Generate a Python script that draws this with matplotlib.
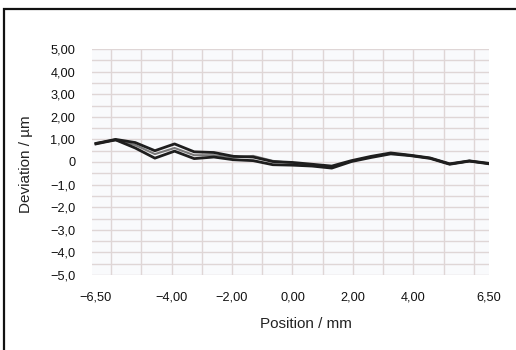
import matplotlib
matplotlib.use("Agg")
import matplotlib.pyplot as plt
from matplotlib.patches import Rectangle
import numpy as np

plt.rcParams['font.family'] = ['Liberation Sans', 'DejaVu Sans']

position = [-6.5, -5.85, -5.2, -4.55, -3.9, -3.25, -2.6, -1.95, -1.3, -0.65, 0.0,
            0.65, 1.3, 1.95, 2.6, 3.25, 3.9, 4.55, 5.2, 5.85, 6.5]
dev_upper = [0.82, 1.00, 0.86, 0.50, 0.80, 0.45, 0.42, 0.25, 0.22, 0.02, -0.02,
             -0.10, -0.18, 0.06, 0.25, 0.40, 0.30, 0.18, -0.08, 0.05, -0.06]
dev_lower = [0.80, 0.98, 0.62, 0.17, 0.48, 0.15, 0.22, 0.10, 0.06, -0.12, -0.14,
             -0.18, -0.27, 0.02, 0.20, 0.36, 0.28, 0.16, -0.10, 0.04, -0.08]
dev_grey = [0.84, 0.96, 0.75, 0.35, 0.62, 0.30, 0.30, 0.20, 0.27, 0.05, -0.05,
            -0.12, -0.22, 0.04, 0.22, 0.38, 0.29, 0.17, -0.09, 0.04, -0.07]

xtick_vals = [-6.5, -4.0, -2.0, 0.0, 2.0, 4.0, 6.5]
xtick_labels = ["\u22126,50", "\u22124,00", "\u22122,00", "0,00", "2,00", "4,00", "6,50"]
ytick_vals = [5, 4, 3, 2, 1, 0, -1, -2, -3, -4, -5]
ytick_labels = ["5,00", "4,00", "3,00", "2,00", "1,00", "0",
                "\u22121,0", "\u22122,0", "\u22123,0", "\u22124,0", "\u22125,0"]
xgrid_vals = [-6, -5, -4, -3, -2, -1, 0, 1, 2, 3, 4, 5, 6]
ygrid_vals = list(np.arange(-5, 5.01, 0.5))

fig = plt.figure(figsize=(5.16, 3.5), dpi=100)
fig.patch.set_facecolor('white')

# outer frame (cut off at right and bottom)
frame = Rectangle((4 / 516, -0.1), 1.2, 1 - 9 / 350 + 0.1, transform=fig.transFigure,
                  fill=False, edgecolor='#111111', linewidth=1.6, zorder=0)
fig.patches.append(frame)

ax = fig.add_axes([92 / 516, 1 - 275 / 350, (489 - 92) / 516, (275 - 49) / 350])
ax.set_facecolor('#f9fafc')
for s in ax.spines.values():
    s.set_visible(False)

gridc = '#dfd6d6'
for gx in xgrid_vals:
    ax.axvline(gx, color=gridc, lw=1.0, zorder=1)
for gy in ygrid_vals:
    ax.axhline(gy, color=gridc, lw=1.0, zorder=1)

ax.plot(position, dev_grey, color='#7a7a7a', lw=1.5, zorder=3)
ax.plot(position, dev_upper, color='#1e1e1e', lw=2.0, zorder=4)
ax.plot(position, dev_lower, color='#1e1e1e', lw=2.0, zorder=4)

ax.set_xlim(-6.63, 6.47)
ax.set_ylim(-5, 5)

ax.set_xticks(xtick_vals)
ax.set_xticklabels(xtick_labels)
ax.set_yticks(ytick_vals)
ax.set_yticklabels(ytick_labels)
ax.tick_params(axis='both', length=0, labelsize=9.2, colors='#111111')
ax.tick_params(axis='x', pad=12)
ax.tick_params(axis='y', pad=12)

ax.set_xlabel("Position / mm", fontsize=11, color='#222222')
ax.xaxis.set_label_coords(0.538, -0.185)
ax.set_ylabel("Deviation / \u00b5m", fontsize=11, color='#222222')
ax.yaxis.set_label_coords(-0.149, 0.49)

fig.savefig("out.png", dpi=100, facecolor='white')
